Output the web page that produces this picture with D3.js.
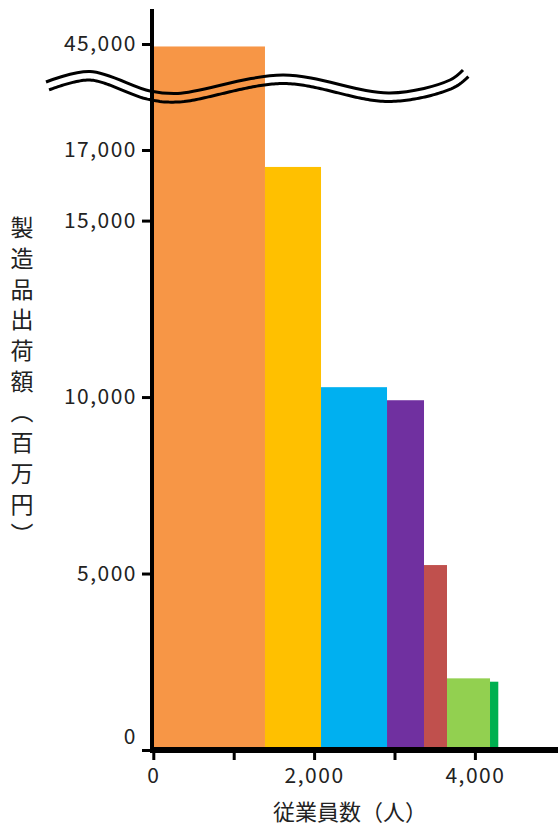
<!DOCTYPE html>
<html>
<head>
<meta charset="utf-8">
<script src="https://cdn.jsdelivr.net/npm/d3@7"></script>
<style>
  body { margin: 0; background: #fff; }
  text { font-family: "Noto Sans CJK JP", "Noto Sans", sans-serif; fill: #222; }
</style>
</head>
<body>
<div id="chart"></div>
<script>
// bars: width = employees, height = shipments
const employees = [1389, 697, 821, 460, 286, 535, 103];
const shipments = [44930, 16520, 10280, 9910, 5240, 2030, 1935];
const colors = ["#F79646", "#FFC000", "#00B0F0", "#7030A0", "#C0504D", "#92D050", "#00B050"];

const lowTicks = [0, 5000, 10000, 15000, 17000];
const highTicks = [45000];
const xTicks = [0, 1000, 2000, 3000, 4000];
const xTickLabels = [0, 2000, 4000];

const yTitle = "製造品出荷額︵百万円︶";
const xTitle = "従業員数（人）";

const W = 558, H = 834;
const fmt = d3.format(",");

const svg = d3.select("#chart").append("svg")
    .attr("width", W)
    .attr("height", H);

// scales
const x = d3.scaleLinear().domain([0, 5000]).range([153.3, 555.3]);
const yLow = d3.scaleLinear().domain([0, 17000]).range([750, 150]);
const yHigh = d3.scaleLinear().domain([44000, 45000]).range([44 + 35.3, 44]);
const yPos = v => v <= 17000 ? yLow(v) : yHigh(v);

// cumulative x start for each bar
let acc = 0;
const bars = employees.map(function (e, i) {
    let d = {x0: acc, x1: acc + e, v: shipments[i], c: colors[i]};
    acc += e;
    return d;
});

svg.append("g").selectAll("rect")
    .data(bars)
    .enter().append("rect")
    .attr("x", d => x(d.x0))
    .attr("width", d => x(d.x1) - x(d.x0))
    .attr("y", d => yPos(d.v))
    .attr("height", d => yLow(0) - yPos(d.v))
    .attr("fill", d => d.c);

// wavy break lines
const breakPts = [[46, 82], [90, 71.5], [150, 91], [178, 93.5], [283, 75], [390, 93], [450, 80], [463, 70]];
const line = d3.line().curve(d3.curveCatmullRom);
const upper = svg.append("path")
    .attr("d", line(breakPts))
    .attr("fill", "none")
    .attr("stroke", "#000")
    .attr("stroke-width", 3);

// lower line = upper offset along its normal
const node = upper.node();
const len = node.getTotalLength();
const off = 8.5;
let lowerPts = [];
for (let s = 0; s <= len; s += 2) {
    let p = node.getPointAtLength(s);
    let q = node.getPointAtLength(Math.min(len, s + 1));
    let r = node.getPointAtLength(Math.max(0, s - 1));
    let dx = q.x - r.x, dy = q.y - r.y;
    let n = Math.sqrt(dx * dx + dy * dy) || 1;
    lowerPts.push([p.x - dy / n * off, p.y + dx / n * off]);
}
svg.append("path")
    .attr("d", d3.line()(lowerPts))
    .attr("fill", "none")
    .attr("stroke", "#000")
    .attr("stroke-width", 3);

// y axes
function styleAxis(g) {
    g.select(".domain").remove();
    g.selectAll(".tick line").attr("stroke", "#000").attr("stroke-width", 3);
    g.selectAll(".tick text")
        .style("font-family", "'Noto Sans CJK JP', sans-serif")
        .style("font-size", "21px")
        .style("letter-spacing", "1.5px")
        .attr("fill", "#222");
}

const yAxisLow = svg.append("g")
    .attr("transform", "translate(150,0)")
    .call(d3.axisLeft(yLow).tickValues(lowTicks).tickSize(8).tickPadding(5).tickFormat(fmt));
styleAxis(yAxisLow);
yAxisLow.selectAll(".tick text").filter(d => d === 0).attr("dy", "-0.3em");

const yAxisHigh = svg.append("g")
    .attr("transform", "translate(150,0)")
    .call(d3.axisLeft(yHigh).tickValues(highTicks).tickSize(8).tickPadding(5).tickFormat(fmt));
styleAxis(yAxisHigh);

// x axis
const xAxis = svg.append("g")
    .attr("transform", "translate(0,752)")
    .call(d3.axisBottom(x).tickValues(xTicks).tickSize(8).tickPadding(8)
        .tickFormat(d => xTickLabels.indexOf(d) >= 0 ? fmt(d) : ""));
styleAxis(xAxis);

// thick axis lines
svg.append("line")
    .attr("x1", 152).attr("x2", 152)
    .attr("y1", 9).attr("y2", 753)
    .attr("stroke", "#000").attr("stroke-width", 4);
svg.append("line")
    .attr("x1", 150).attr("x2", 558)
    .attr("y1", 750).attr("y2", 750)
    .attr("stroke", "#000").attr("stroke-width", 6);

// titles
svg.append("text")
    .attr("x", 22)
    .attr("y", 216)
    .style("writing-mode", "vertical-rl")
    .style("font-size", "23px")
    .style("letter-spacing", "7.7px")
    .text(yTitle);

svg.append("text")
    .attr("x", 350)
    .attr("y", 812)
    .attr("dy", "0.35em")
    .attr("text-anchor", "middle")
    .style("font-size", "22px")
    .text(xTitle);
</script>
</body>
</html>
